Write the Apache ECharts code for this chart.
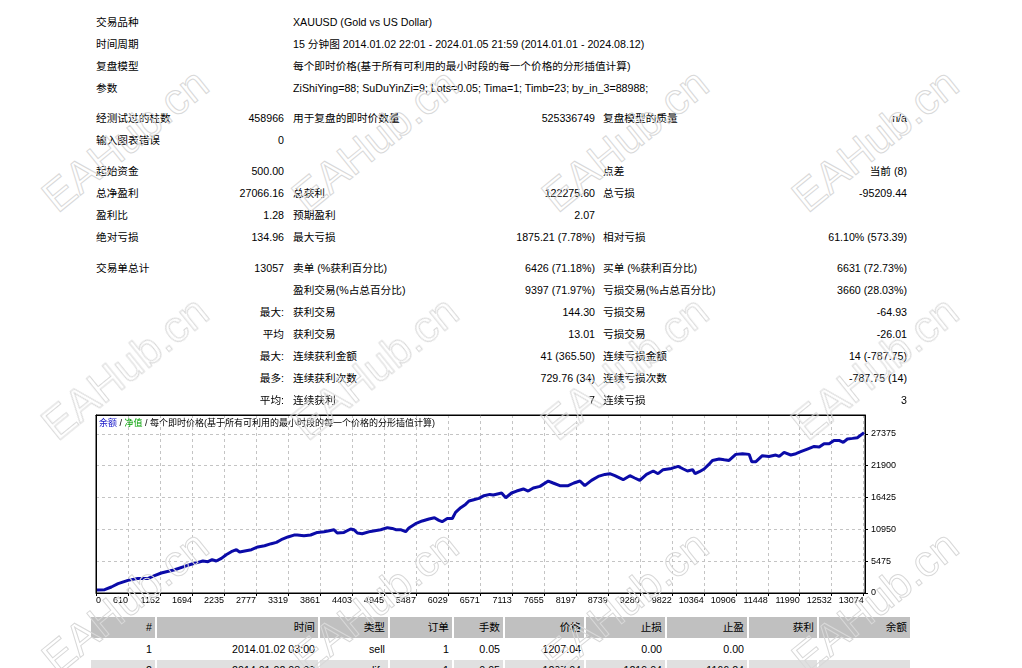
<!DOCTYPE html>
<html>
<head>
<meta charset="utf-8">
<script src="https://cdn.jsdelivr.net/npm/echarts@6/dist/echarts.min.js"></script>
<style>
html,body{margin:0;padding:0;background:#fff;width:1022px;height:668px;overflow:hidden;}
body{position:relative;font-family:"Liberation Sans","Noto Sans CJK SC",sans-serif;font-size:10.67px;color:#000;}
.t{position:absolute;height:22px;line-height:22px;white-space:nowrap;}
.c{position:absolute;white-space:nowrap;text-align:right;box-sizing:border-box;padding-right:3px;}
#chart{position:absolute;left:90px;top:405px;width:830px;height:210px;}
.wm{position:absolute;font-family:"Liberation Sans",sans-serif;font-size:44px;color:transparent;-webkit-text-stroke:1px #d8d8d8;white-space:nowrap;transform:translate(-50%,-50%) rotate(-39deg);pointer-events:none;}
</style>
</head>
<body>
<div id="chart"></div>
<script>
// ---- chart data ----
const xLabels = [0, 610, 1152, 1694, 2235, 2777, 3319, 3861, 4403, 4945, 5487, 6029, 6571, 7113, 7655, 8197, 8739, 9280, 9822, 10364, 10906, 11448, 11990, 12532, 13074];
const yInterval = 5475;
const yMax = 30600;
// position along the trade axis (in label steps) and balance
const tradePos = [0.00,0.27,0.48,0.69,1.00,1.31,1.63,1.83,2.04,2.20,2.46,2.77,3.00,3.19,3.34,3.50,3.63,3.76,3.92,4.07,4.23,4.39,4.49,4.65,4.86,5.06,5.27,5.48,5.64,5.79,6.00,6.19,6.29,6.50,6.71,6.92,7.13,7.33,7.44,7.54,7.75,7.96,8.06,8.17,8.32,8.58,8.90,9.11,9.26,9.37,9.52,9.68,9.78,9.99,10.20,10.41,10.58,10.72,10.82,10.98,11.14,11.24,11.40,11.55,11.66,11.81,11.97,12.13,12.31,12.42,12.68,12.81,12.99,13.15,13.36,13.51,13.67,13.88,14.14,14.29,14.50,14.76,14.94,15.13,15.28,15.49,15.70,15.91,16.06,16.22,16.48,16.69,16.84,17.00,17.21,17.42,17.57,17.73,17.99,18.20,18.36,18.49,18.65,18.73,18.86,19.01,19.15,19.27,19.48,19.64,19.79,20.00,20.21,20.42,20.50,20.63,20.83,21.04,21.25,21.36,21.51,21.72,21.88,22.03,22.24,22.45,22.61,22.76,22.92,23.07,23.23,23.36,23.49,23.65,23.80,24.01];
const balance = [500,570,1030,1600,2170,2510,2510,2970,3440,3660,4000,4570,4980,5260,5500,5380,5720,5500,5950,6580,7100,7440,7050,7220,7440,7910,8130,8480,8700,9160,9630,9950,9970,9850,9970,10420,10540,10760,10880,10310,10420,11000,10880,10310,10190,10590,10880,11230,11100,10880,10880,10540,11170,11910,12380,12720,12940,12480,12260,12820,12820,13860,14660,15230,15820,16040,16260,16730,16950,16850,17190,16380,17190,17530,17880,17530,18050,18330,19250,18910,18450,18450,18910,19250,18450,19360,20040,20390,20510,20160,19480,20160,19770,19360,20390,20970,20510,21200,21420,21760,21320,20970,21200,20510,20850,21320,22060,22790,23040,22910,22790,23830,23950,23830,22570,22570,23600,23480,23720,23480,24170,23720,23950,24290,24750,25200,25100,25670,25670,26230,26230,25890,26470,26580,26700,27566];

// ---- report text ----
const summaryRows = [
  ["交易品种", "", "XAUUSD (Gold vs US Dollar)", null, null, null],
  ["时间周期", "", "15 分钟图 2014.01.02 22:01 - 2024.01.05 21:59 (2014.01.01 - 2024.08.12)", null, null, null],
  ["复盘模型", "", "每个即时价格(基于所有可利用的最小时段的每一个价格的分形插值计算)", null, null, null],
  ["参数", "", "ZiShiYing=88; SuDuYinZi=9; Lots=0.05; Tima=1; Timb=23; by_in_3=88988;", null, null, null],
  "gap8",
  ["经测试过的柱数", "458966", "用于复盘的即时价数量", "525336749", "复盘模型的质量", "n/a"],
  ["输入图表错误", "0", "", "", "", ""],
  "gap9",
  ["起始资金", "500.00", "", "", "点差", "当前 (8)"],
  ["总净盈利", "27066.16", "总获利", "122275.60", "总亏损", "-95209.44"],
  ["盈利比", "1.28", "预期盈利", "2.07", "", ""],
  ["绝对亏损", "134.96", "最大亏损", "1875.21 (7.78%)", "相对亏损", "61.10% (573.39)"],
  "gap9",
  ["交易单总计", "13057", "卖单 (%获利百分比)", "6426 (71.18%)", "买单 (%获利百分比)", "6631 (72.73%)"],
  ["", "", "盈利交易(%占总百分比)", "9397 (71.97%)", "亏损交易(%占总百分比)", "3660 (28.03%)"],
  ["", "最大:", "获利交易", "144.30", "亏损交易", "-64.93"],
  ["", "平均", "获利交易", "13.01", "亏损交易", "-26.01"],
  ["", "最大:", "连续获利金额", "41 (365.50)", "连续亏损金额", "14 (-787.75)"],
  ["", "最多:", "连续获利次数", "729.76 (34)", "连续亏损次数", "-787.75 (14)"],
  ["", "平均:", "连续获利", "7", "连续亏损", "3"]
];
const tradeHeader = ["#", "时间", "类型", "订单", "手数", "价格", "止损", "止盈", "获利", "余额"];
const tradeRows = [
  ["1", "2014.01.02 03:00", "sell", "1", "0.05", "1207.04", "0.00", "0.00", "", ""],
  ["2", "2014.01.02 03:00", "modify", "1", "0.05", "1207.04", "1219.04", "1166.24", "", ""]
];

// ---- build summary table ----
const colAnchor = [["l", 96], ["r", 284], ["l", 293], ["r", 595], ["l", 603], ["r", 907]];
let y = 11;
summaryRows.forEach(row => {
  if (typeof row === "string") { y += parseInt(row.slice(3)); return; }
  row.forEach((txt, i) => {
    if (txt === null || txt === "") return;
    const d = document.createElement("div");
    d.className = "t";
    d.textContent = txt;
    d.style.top = y + "px";
    const [a, x] = colAnchor[i];
    if (a === "l") d.style.left = x + "px"; else d.style.right = (1022 - x) + "px";
    document.body.appendChild(d);
  });
  y += 22;
});

// ---- build trade table ----
const colW = [64, 161, 68, 62, 49, 79, 79, 80, 68, 91];
function tableRow(cells, top, h, bg) {
  let x = 91;
  cells.forEach((txt, i) => {
    const d = document.createElement("div");
    d.className = "c";
    d.style.left = x + "px"; d.style.top = top + "px";
    d.style.width = colW[i] + "px"; d.style.height = h + "px";
    d.style.lineHeight = h + "px"; d.style.background = bg;
    d.textContent = txt;
    document.body.appendChild(d);
    x += colW[i] + 2;
  });
}
tableRow(tradeHeader, 617, 21, "#C0C0C0");
tableRow(tradeRows[0], 639, 20, "#FFFFFF");
tableRow(tradeRows[1], 660, 20, "#E0E0E0");

// ---- chart ----
const chart = echarts.init(document.getElementById("chart"), null, { renderer: "canvas" });
const lblFont = { fontFamily: "Liberation Sans, sans-serif", fontSize: 9, color: "#000" };
const gridLine = { show: true, lineStyle: { color: "#c4c4c4", type: [3, 3], width: 1 } };
const blackLine = { show: true, onZero: false, lineStyle: { color: "#000", width: 1 } };
chart.setOption({
  animation: false,
  backgroundColor: "#fff",
  title: {
    left: 9, top: 14, padding: 0,
    text: "{b|余额} / {g|净值} / 每个即时价格(基于所有可利用的最小时段的每一个价格的分形插值计算)",
    textStyle: {
      fontSize: 9, fontWeight: "normal", color: "#000",
      fontFamily: "Liberation Sans, Noto Sans CJK SC, sans-serif",
      rich: { b: { color: "#1414c8", fontSize: 9 }, g: { color: "#00a000", fontSize: 9 } }
    }
  },
  grid: { left: 6, right: 55, top: 10, bottom: 22, show: true, borderColor: "#000", borderWidth: 1, backgroundColor: "#fff" },
  xAxis: [{
    type: "value", min: 0, max: 24.04, interval: 1, z: 1,
    axisLine: blackLine,
    axisTick: { show: true, length: 3, lineStyle: { color: "#000" } },
    splitLine: gridLine,
    axisLabel: Object.assign({
      margin: 3, align: "right", alignMinLabel: "left", showMaxLabel: false,
      formatter: v => { const i = Math.round(v); return Math.abs(v - i) < 1e-6 && i < xLabels.length ? String(xLabels[i]) : ""; }
    }, lblFont)
  }, {
    type: "value", position: "top", min: 0, max: 24.04, z: 8,
    axisLine: blackLine, axisTick: { show: false }, axisLabel: { show: false }, splitLine: { show: false }
  }],
  yAxis: [{
    type: "value", position: "right", min: 0, max: yMax, interval: yInterval, z: 1,
    axisLine: blackLine,
    axisTick: { show: true, length: 3, lineStyle: { color: "#000" } },
    splitLine: gridLine,
    axisLabel: Object.assign({ margin: 6, showMaxLabel: false, formatter: v => String(v) }, lblFont)
  }, {
    type: "value", position: "left", min: 0, max: yMax, z: 8,
    axisLine: blackLine, axisTick: { show: false }, axisLabel: { show: false }, splitLine: { show: false }
  }],
  series: [{
    name: "余额", type: "line", showSymbol: false, smooth: false, z: 3,
    lineStyle: { color: "#0b0ba8", width: 3 },
    data: tradePos.map((p, i) => [p, balance[i]])
  }]
});

// ---- watermarks ----
const wmX = [125, 375, 625, 875];
const wmY = [140, 368, 602];
wmY.forEach(yy => wmX.forEach(xx => {
  const w = document.createElement("div");
  w.className = "wm"; w.textContent = "EAHub.cn";
  w.style.left = xx + "px"; w.style.top = yy + "px";
  document.body.appendChild(w);
}));
</script>
</body>
</html>
